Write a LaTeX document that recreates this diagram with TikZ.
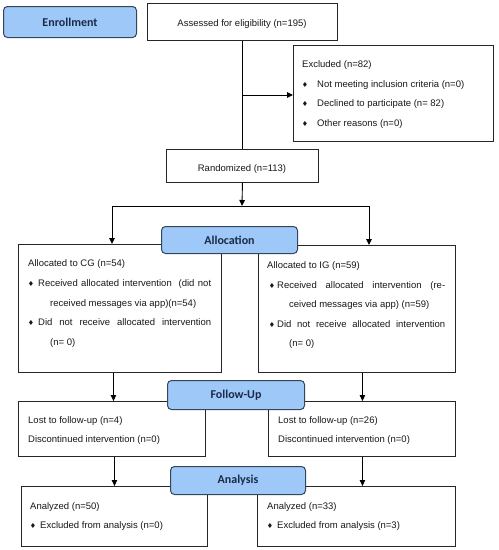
\documentclass[tikz,border=0pt]{standalone}
\usepackage{fontspec}
\setmainfont{Liberation Sans}
\newfontfamily\lblfont{Carlito}
\newfontfamily\symfont{DejaVu Sans}
\usetikzlibrary{arrows.meta}
\definecolor{lblfill}{HTML}{9EC8F8}
\definecolor{lbldraw}{HTML}{34465A}
\definecolor{lbltext}{HTML}{1B2A48}
\tikzset{
 box/.style={draw=black!85, line width=0.9pt, fill=white, anchor=north west, inner sep=0},
 lbl/.style={draw=lbldraw, fill=lblfill, line width=1pt, rounded corners=4pt, anchor=north west, inner sep=0, font=\lblfont\bfseries\fontsize{12}{14}\selectfont, text=lbltext},
 txt/.style={anchor=base west, inner sep=0, font=\fontsize{9.5}{11}\selectfont, text=black!90},
 ctxt/.style={anchor=base, inner sep=0, font=\fontsize{9.5}{11}\selectfont, text=black!90},
 bul/.style={inner sep=0, font=\symfont\fontsize{7}{8}\selectfont, text=black!90},
 arr/.style={line width=0.9pt, -{Triangle[length=6pt,width=5.5pt]}},
 ln/.style={line width=0.9pt},
}
\begin{document}
\begin{tikzpicture}[x=1pt,y=-1pt]
\useasboundingbox (0,0) rectangle (499,550);
% boxes
\node[box, minimum width=190pt, minimum height=37pt] (assess) at (147,3) {};
\node[box, minimum width=200pt, minimum height=96pt] (excl) at (293,45) {};
\node[box, minimum width=152pt, minimum height=33pt] (rand) at (166,149) {};
\node[box, minimum width=203pt, minimum height=128pt] (cg) at (18,244) {};
\node[box, minimum width=197pt, minimum height=127pt] (ig) at (258,245) {};
\node[box, minimum width=187pt, minimum height=55pt] (ful) at (18,401) {};
\node[box, minimum width=187pt, minimum height=55pt] (fur) at (268,401) {};
\node[box, minimum width=186pt, minimum height=60pt] (anl) at (21,486) {};
\node[box, minimum width=198pt, minimum height=60pt] (anr) at (257,486) {};
% texts
\node[ctxt] (tassess) at (242,26.5) {Assessed for eligibility (n=195)};
\node[ctxt] (trand) at (242,171.5) {Randomized (n=113)};
\node[txt] (te0) at (302,67.5) {Excluded (n=82)};
\node[bul] (be1) at (305,84.5) {♦};
\node[txt] (te1) at (317,87.5) {Not meeting inclusion criteria (n=0)};
\node[bul] (be2) at (305,103.5) {♦};
\node[txt] (te2) at (317,106.5) {Declined to participate (n= 82)};
\node[bul] (be3) at (305,123.5) {♦};
\node[txt] (te3) at (317,126.5) {Other reasons (n=0)};
% CG
\node[txt] (tc0) at (28,266.5) {Allocated to CG (n=54)};
\node[bul] (bc1) at (31,283.5) {♦};
\node[txt] (tc1) at (38,286.5) {\makebox[173pt][s]{Received allocated intervention \ (did not}};
\node[txt] (tc2) at (50,306.5) {received messages via app)(n=54)};
\node[bul] (bc3) at (31,322.5) {♦};
\node[txt] (tc3) at (38,325.5) {\makebox[173pt][s]{Did not receive allocated intervention}};
\node[txt] (tc4) at (50,345.5) {(n= 0)};
% IG
\node[txt] (ti0) at (267,268.5) {Allocated to IG (n=59)};
\node[bul] (bi1) at (272,285.5) {♦};
\node[txt] (ti1) at (277,288.5) {\makebox[168pt][s]{Received allocated intervention (re-}};
\node[txt] (ti2) at (289,307.5) {ceived messages via app) (n=59)};
\node[bul] (bi3) at (272,324.5) {♦};
\node[txt] (ti3) at (277,327.5) {\makebox[168pt][s]{Did not receive allocated intervention}};
\node[txt] (ti4) at (289,346.5) {(n= 0)};
% follow-up
\node[txt] (tfl1) at (28,423.5) {Lost to follow-up (n=4)};
\node[txt] (tfl2) at (28,442.5) {Discontinued intervention (n=0)};
\node[txt] (tfr1) at (278,423.5) {Lost to follow-up (n=26)};
\node[txt] (tfr2) at (278,442.5) {Discontinued intervention (n=0)};
% analysis
\node[txt] (tal1) at (30,509.5) {Analyzed (n=50)};
\node[bul] (bal) at (33,525.5) {♦};
\node[txt] (tal2) at (40,528.5) {Excluded from analysis (n=0)};
\node[txt] (tar1) at (267,509.5) {Analyzed (n=33)};
\node[bul] (bar) at (270,525.5) {♦};
\node[txt] (tar2) at (277,528.5) {Excluded from analysis (n=3)};
% connectors
\draw[ln] (assess.south) -- (rand.north);
\coordinate (j1) at (242,95);
\draw[arr] (j1) -- (j1 -| excl.west);
\coordinate (split) at (242,206);
\coordinate (sl) at (112,206);
\coordinate (sr) at (369,206);
\draw[arr] (rand.south) -- (split);
\draw[ln] (sl) -- (sr);
\draw[arr] (sl) -- (sl |- cg.north);
\draw[arr] (sr) -- (sr |- ig.north);
\draw[arr] ([xshift=-6.5pt]cg.south) -- ([xshift=-6.5pt]cg.south |- ful.north);
\draw[arr] ([xshift=5.5pt]ig.south) -- ([xshift=5.5pt]ig.south |- fur.north);
\draw[arr] ([xshift=2.5pt]ful.south) -- ([xshift=2.5pt]ful.south |- anl.north);
\draw[arr] ([xshift=0.5pt]fur.south) -- ([xshift=0.5pt]fur.south |- anr.north);
% labels
\node[lbl, minimum width=133pt, minimum height=31pt] (enr) at (3,6) {Enrollment};
\node[lbl, minimum width=136pt, minimum height=27pt] (alloc) at (161,226) {Allocation};
\node[lbl, minimum width=137pt, minimum height=29pt] (fu) at (167,380) {Follow-Up};
\node[lbl, minimum width=135pt, minimum height=28pt] (ana) at (170,466) {Analysis};
\end{tikzpicture}
\end{document}
